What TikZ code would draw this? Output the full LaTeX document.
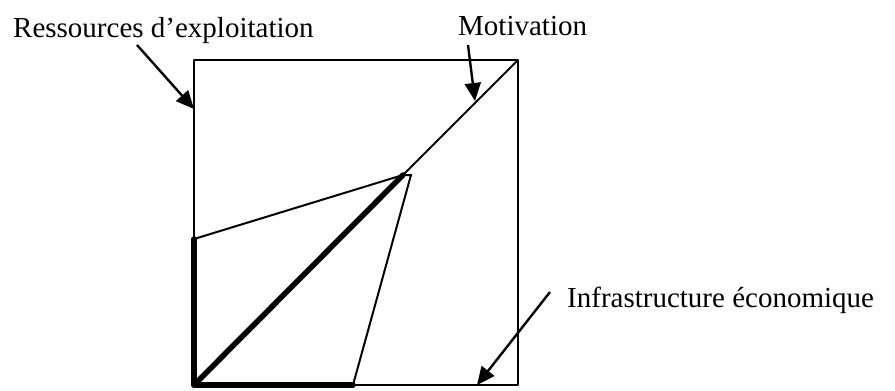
\documentclass[tikz,border=0pt]{standalone}
\usepackage{fontspec}
\setmainfont{Liberation Serif}
\usetikzlibrary{positioning,arrows.meta}

\begin{document}
\begin{tikzpicture}[
    x=1pt,y=-1pt,
    font=\fontsize{29}{33}\selectfont,
    frame/.style={line width=2.4pt,line join=round},
    fineline/.style={line width=2pt},
    heavy/.style={line width=5.5pt,line cap=round,line join=round},
    pointer/.style={-{Triangle[length=18pt,width=16pt]},line width=2.4pt},
    lbl/.style={inner sep=0pt,anchor=base west}
  ]
  \useasboundingbox (0,0) rectangle (895,391);

  % square
  \coordinate (sw) at (194,385);
  \coordinate (ne) at (518,60);
  \draw[frame] (sw) rectangle (ne);

  % triangle inside
  \coordinate (wl)   at (194,239);
  \coordinate (top)  at (403,175);
  \coordinate (apex) at (411,175);
  \coordinate (sb)   at (353,385);
  \draw[fineline] (top) -- (ne);
  \draw[fineline] (wl) -- (top) -- (apex) -- (sb);
  \draw[heavy] (wl) -- (sw) -- (sb);
  \draw[heavy] (sw) -- (top);

  % labels
  \node[lbl] (res) at (13,37)   {Ressources d'exploitation};
  \node[lbl] (mot) at (458,35)  {Motivation};
  \node[lbl] (inf) at (567,307) {Infrastructure économique};

  % pointers
  \coordinate (restip) at (194,109);
  \coordinate (mottip) at (475,101);
  \coordinate (inftip) at (477,385);
  \draw[pointer] ([shift={(124,8)}]res.base west) -- (restip);
  \draw[pointer] ([shift={(10,10)}]mot.base west) -- (mottip);
  \draw[pointer] ([shift={(-17,-15)}]inf.base west) -- (inftip);

\end{tikzpicture}
\end{document}
